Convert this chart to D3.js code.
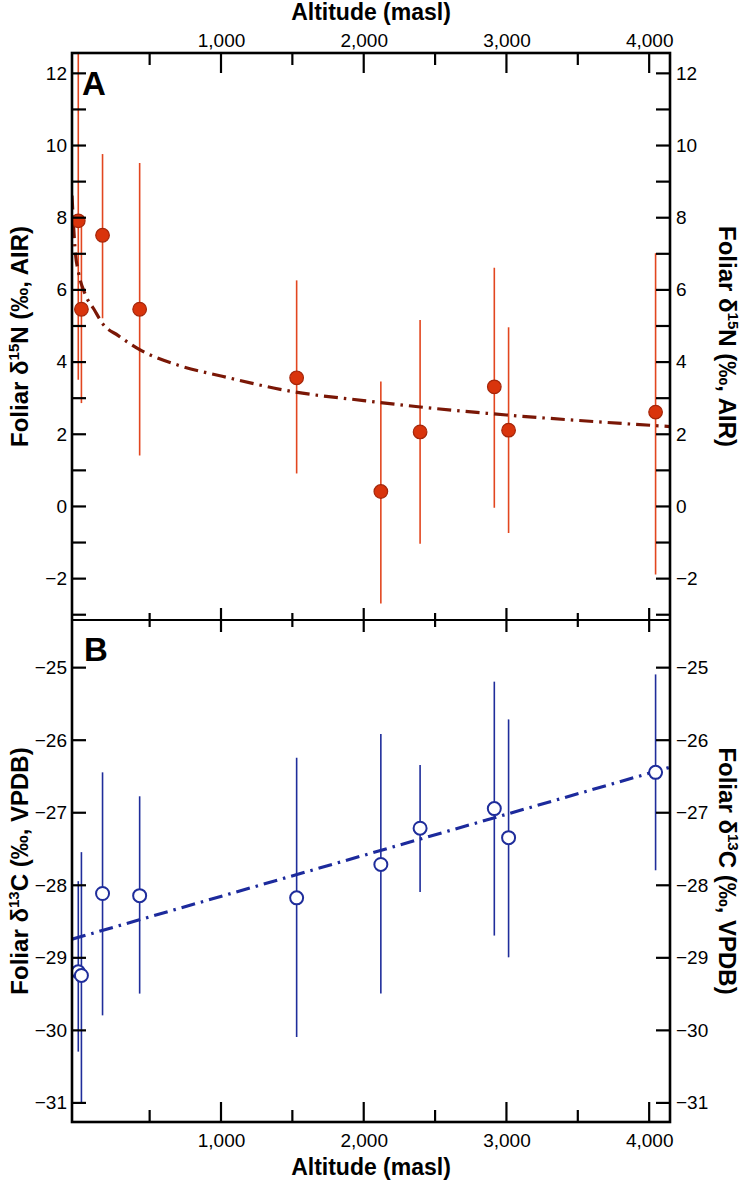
<!DOCTYPE html>
<html><head><meta charset="utf-8">
<script src="https://cdn.jsdelivr.net/npm/d3@7"></script>
<style>body{margin:0;background:#fff;} text{font-family:"Liberation Sans",Arial,sans-serif;}</style>
</head><body>
<svg id="chart" width="746" height="1181"></svg>
<script>
// ---- data ----
const altitude = [0, 22, 170, 430, 1530, 2120, 2395, 2915, 3015, 4045];
const d15N      = [7.9, 5.45, 7.5, 5.45, 3.55, 0.4, 2.05, 3.3, 2.1, 2.6];
const d15N_low  = [3.5, 2.85, 5.2, 1.4, 0.9, -2.7, -1.05, -0.05, -0.75, -1.9];
const d15N_high = [13.5, 7.9, 9.75, 9.5, 6.25, 3.45, 5.15, 6.6, 4.95, 7.0];
const d13C      = [-29.2, -29.25, -28.12, -28.15, -28.18, -27.72, -27.22, -26.95, -27.35, -26.45];
const d13C_low  = [-30.3, -31.0, -29.8, -29.5, -30.1, -29.5, -28.1, -28.7, -29.0, -27.8];
const d13C_high = [-27.95, -27.55, -26.45, -26.78, -26.25, -25.92, -26.35, -25.2, -25.72, -25.1];
// fitted curves
const fitA_alt = [-44, -35, -20, 0, 50, 110, 175, 280, 430, 700, 1000, 1500, 2000, 2500, 3000, 3500, 4146];
const fitA_val = [8.6, 7.9, 7.0, 6.5, 5.85, 5.45, 5.03, 4.72, 4.33, 3.9, 3.6, 3.17, 2.92, 2.7, 2.52, 2.37, 2.2];
const fitB_alt = [-44, 4146];
const fitB_val = [-28.75, -26.38];
const xTicksMajor = [1000, 2000, 3000, 4000];
const xTicksMinor = [500, 1500, 2500, 3500];
const yTicksA = [-3, -2, -1, 0, 1, 2, 3, 4, 5, 6, 7, 8, 9, 10, 11, 12];
const yLabelsA = [-2, 0, 2, 4, 6, 8, 10, 12];
const yTicksB = [-31, -30, -29, -28, -27, -26, -25];

// ---- layout ----
const L = 72, R = 670, TOP = 53, MID = 620, BOT = 1122;
const svg = d3.select("#chart");
const x = d3.scaleLinear().domain([-44, 4146]).range([L, R]);
const yA = d3.scaleLinear().domain([-3.16, 12.55]).range([MID, TOP]);
const yB = d3.scaleLinear().domain([-31.27, -24.35]).range([BOT, MID]);
const fmt = d => d3.format(",")(d);
const minus = d => (d < 0 ? "\u2212" + Math.abs(d) : String(d));

const defs = svg.append("defs");
defs.append("clipPath").attr("id", "clipA").append("rect").attr("x", L).attr("y", TOP).attr("width", R - L).attr("height", MID - TOP);
defs.append("clipPath").attr("id", "clipB").append("rect").attr("x", L).attr("y", MID).attr("width", R - L).attr("height", BOT - MID);

const redBar = "#e2461f", redFill = "#d9340c", redStroke = "#a4260a", redFit = "#7a1706";
const blue = "#1f2d9b", blueFit = "#1c2a9c";

// ---- panel A data ----
const gA = svg.append("g").attr("clip-path", "url(#clipA)");
gA.selectAll("line.err").data(altitude).join("line")
  .attr("x1", d => x(d)).attr("x2", d => x(d))
  .attr("y1", (d, i) => yA(d15N_low[i])).attr("y2", (d, i) => yA(d15N_high[i]))
  .attr("stroke", redBar).attr("stroke-width", 1.6);
const lineA = d3.line().x(d => x(d[0])).y(d => yA(d[1])).curve(d3.curveMonotoneX);
gA.append("path").datum(fitA_alt.map((a, i) => [a, fitA_val[i]]))
  .attr("d", lineA).attr("fill", "none").attr("stroke", redFit).attr("stroke-width", 3.2)
  .attr("stroke-dasharray", "14,6,2.5,6");
gA.selectAll("circle").data(altitude).join("circle")
  .attr("cx", d => x(d)).attr("cy", (d, i) => yA(d15N[i])).attr("r", 6.8)
  .attr("fill", redFill).attr("stroke", redStroke).attr("stroke-width", 1.2);

// ---- panel B data ----
const gB = svg.append("g").attr("clip-path", "url(#clipB)");
gB.selectAll("line.err").data(altitude).join("line")
  .attr("x1", d => x(d)).attr("x2", d => x(d))
  .attr("y1", (d, i) => yB(d13C_low[i])).attr("y2", (d, i) => yB(d13C_high[i]))
  .attr("stroke", blue).attr("stroke-width", 1.6);
const lineB = d3.line().x(d => x(d[0])).y(d => yB(d[1]));
gB.append("path").datum(fitB_alt.map((a, i) => [a, fitB_val[i]]))
  .attr("d", lineB).attr("fill", "none").attr("stroke", blueFit).attr("stroke-width", 3.2)
  .attr("stroke-dasharray", "14,6,2.5,6");
gB.selectAll("circle").data(altitude).join("circle")
  .attr("cx", d => x(d)).attr("cy", (d, i) => yB(d13C[i])).attr("r", 6.5)
  .attr("fill", "#fff").attr("stroke", blue).attr("stroke-width", 2);

// ---- axes ----
const axG = svg.append("g");
function yAxisTicks(scale, ticks) {
  axG.append("g").attr("transform", `translate(${L},0)`)
    .call(d3.axisRight(scale).tickValues(ticks).tickSize(14).tickFormat(""))
    .call(g => g.select(".domain").remove())
    .call(g => g.selectAll("line").attr("stroke", "#000").attr("stroke-width", 2.2));
  axG.append("g").attr("transform", `translate(${R},0)`)
    .call(d3.axisLeft(scale).tickValues(ticks).tickSize(14).tickFormat(""))
    .call(g => g.select(".domain").remove())
    .call(g => g.selectAll("line").attr("stroke", "#000").attr("stroke-width", 2.2));
}
yAxisTicks(yA, yTicksA);
yAxisTicks(yB, yTicksB);

function yLabels(scale, vals) {
  axG.append("g").selectAll("text.l").data(vals).join("text")
    .attr("x", L - 5).attr("y", d => scale(d)).attr("dy", "0.36em")
    .attr("text-anchor", "end").attr("font-size", 19).text(minus);
  axG.append("g").selectAll("text.r").data(vals).join("text")
    .attr("x", R + 6).attr("y", d => scale(d)).attr("dy", "0.36em")
    .attr("text-anchor", "start").attr("font-size", 19).text(minus);
}
yLabels(yA, yLabelsA);
yLabels(yB, yTicksB);

function xTicks(yPos, dirDown, dirUp, majLen, minLen) {
  const g = axG.append("g");
  g.selectAll("line.maj").data(xTicksMajor).join("line")
    .attr("x1", d => x(d)).attr("x2", d => x(d))
    .attr("y1", yPos - (dirUp ? majLen : 0)).attr("y2", yPos + (dirDown ? majLen : 0))
    .attr("stroke", "#000").attr("stroke-width", 2.2);
  g.selectAll("line.min").data(xTicksMinor).join("line")
    .attr("x1", d => x(d)).attr("x2", d => x(d))
    .attr("y1", yPos - (dirUp ? minLen : 0)).attr("y2", yPos + (dirDown ? minLen : 0))
    .attr("stroke", "#000").attr("stroke-width", 2.2);
}
xTicks(TOP, true, false, 20, 12);
xTicks(BOT, false, true, 20, 12);
xTicks(MID, true, true, 12, 7);

axG.append("g").call(d3.axisTop(x).tickValues(xTicksMajor).tickSize(0).tickPadding(0).tickFormat(fmt))
  .attr("transform", `translate(0,${TOP - 6})`)
  .call(g => g.select(".domain").remove())
  .call(g => g.selectAll("text").attr("font-size", 19).attr("font-family", "Liberation Sans, Arial, sans-serif").attr("fill", "#000"));
axG.append("g").call(d3.axisBottom(x).tickValues(xTicksMajor).tickSize(0).tickPadding(0).tickFormat(fmt))
  .attr("transform", `translate(0,${BOT + 11})`)
  .call(g => g.select(".domain").remove())
  .call(g => g.selectAll("text").attr("font-size", 19).attr("font-family", "Liberation Sans, Arial, sans-serif").attr("fill", "#000"));

// frames
const frame = svg.append("g").attr("fill", "none").attr("stroke", "#000").attr("stroke-width", 2.6);
frame.append("rect").attr("x", L).attr("y", TOP).attr("width", R - L).attr("height", BOT - TOP);
frame.append("line").attr("x1", L).attr("x2", R).attr("y1", MID).attr("y2", MID).attr("stroke-width", 2.2);

// titles
svg.append("text").attr("x", (L + R) / 2).attr("y", 20).attr("text-anchor", "middle")
  .attr("font-size", 23).attr("font-weight", "bold").text("Altitude (masl)");
svg.append("text").attr("x", (L + R) / 2).attr("y", 1175).attr("text-anchor", "middle")
  .attr("font-size", 23).attr("font-weight", "bold").text("Altitude (masl)");

function yTitle(cx, cy, rot, iso, rest) {
  const t = svg.append("text").attr("transform", `translate(${cx},${cy}) rotate(${rot})`)
    .attr("text-anchor", "middle").attr("font-size", 24).attr("font-weight", "bold");
  t.append("tspan").text("Foliar \u03b4");
  t.append("tspan").attr("dy", -9).attr("font-size", 15).text(iso);
  t.append("tspan").attr("dy", 9).text(rest);
}
const midA = (TOP + MID) / 2, midB = (MID + BOT) / 2;
yTitle(28, midA, -90, "15", "N (\u2030, AIR)");
yTitle(719, midA, 90, "15", "N (\u2030, AIR)");
yTitle(28, midB, -90, "13", "C (\u2030, VPDB)");
yTitle(719, midB, 90, "13", "C (\u2030, VPDB)");

// panel letters
svg.append("text").attr("x", 82).attr("y", 95).attr("font-size", 33).attr("font-weight", "bold").text("A");
svg.append("text").attr("x", 84).attr("y", 661).attr("font-size", 33).attr("font-weight", "bold").text("B");
</script>
</body></html>
